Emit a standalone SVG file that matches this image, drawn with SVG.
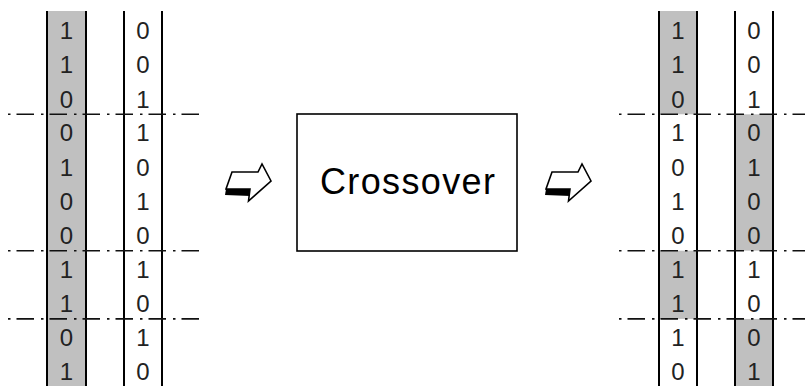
<svg xmlns="http://www.w3.org/2000/svg" width="805" height="386" viewBox="0 0 805 386">
<defs>
<style>
.col{stroke:#000;stroke-width:2;fill:none}
.gray{fill:#c0c0c0;stroke:none}
.dash{stroke:#111;stroke-width:1.6;fill:none;stroke-dasharray:2.5 6 17.5 7}
.d{font-family:"Liberation Sans",Arial,sans-serif;font-size:24px;fill:#222;text-anchor:middle}
.lbl{font-family:"Liberation Sans",Arial,sans-serif;font-size:36px;fill:#000;text-anchor:middle}
.arr{fill:#fff;stroke:#000;stroke-width:1.6;stroke-linejoin:miter}
</style>
<g id="arrowShape">
<polygon points="226,189 250,189 250.5,196 225,195" fill="#000"/>
<polygon class="arr" points="232,172 258,172 262,164 271,181 248.5,201 250,189 226,189"/>
</g>
</defs>
<rect width="805" height="386" fill="#fff"/>

<g id="left-chromosomes">
<g id="parent1">
<rect class="gray" x="47" y="11" width="39" height="375"/>
<line class="col" x1="47" y1="11" x2="47" y2="386"/>
<line class="col" x1="86" y1="11" x2="86" y2="386"/>
<text class="d" x="66.5" y="39.3">1</text>
<text class="d" x="66.5" y="73.4">1</text>
<text class="d" x="66.5" y="107.5">0</text>
<text class="d" x="66.5" y="141">0</text>
<text class="d" x="66.5" y="175.7">1</text>
<text class="d" x="66.5" y="209.8">0</text>
<text class="d" x="66.5" y="243.9">0</text>
<text class="d" x="66.5" y="278">1</text>
<text class="d" x="66.5" y="312.1">1</text>
<text class="d" x="66.5" y="346.2">0</text>
<text class="d" x="66.5" y="380.3">1</text>
</g>
<g id="parent2">
<line class="col" x1="124" y1="11" x2="124" y2="386"/>
<line class="col" x1="162" y1="11" x2="162" y2="386"/>
<text class="d" x="143" y="39.3">0</text>
<text class="d" x="143" y="73.4">0</text>
<text class="d" x="143" y="107.5">1</text>
<text class="d" x="143" y="141">1</text>
<text class="d" x="143" y="175.7">0</text>
<text class="d" x="143" y="209.8">1</text>
<text class="d" x="143" y="243.9">0</text>
<text class="d" x="143" y="278">1</text>
<text class="d" x="143" y="312.1">0</text>
<text class="d" x="143" y="346.2">1</text>
<text class="d" x="143" y="380.3">0</text>
</g>
</g>

<g id="right-chromosomes">
<g id="child1">
<rect class="gray" x="659" y="11" width="38" height="103.3"/>
<rect class="gray" x="659" y="250.7" width="38" height="68.2"/>
<line class="col" x1="659" y1="11" x2="659" y2="386"/>
<line class="col" x1="697" y1="11" x2="697" y2="386"/>
<text class="d" x="678" y="39.3">1</text>
<text class="d" x="678" y="73.4">1</text>
<text class="d" x="678" y="107.5">0</text>
<text class="d" x="678" y="141">1</text>
<text class="d" x="678" y="175.7">0</text>
<text class="d" x="678" y="209.8">1</text>
<text class="d" x="678" y="243.9">0</text>
<text class="d" x="678" y="278">1</text>
<text class="d" x="678" y="312.1">1</text>
<text class="d" x="678" y="346.2">1</text>
<text class="d" x="678" y="380.3">0</text>
</g>
<g id="child2">
<rect class="gray" x="735" y="114.3" width="38" height="136.4"/>
<rect class="gray" x="735" y="318.9" width="38" height="67.1"/>
<line class="col" x1="735" y1="11" x2="735" y2="386"/>
<line class="col" x1="773" y1="11" x2="773" y2="386"/>
<text class="d" x="754" y="39.3">0</text>
<text class="d" x="754" y="73.4">0</text>
<text class="d" x="754" y="107.5">1</text>
<text class="d" x="754" y="141">0</text>
<text class="d" x="754" y="175.7">1</text>
<text class="d" x="754" y="209.8">0</text>
<text class="d" x="754" y="243.9">0</text>
<text class="d" x="754" y="278">1</text>
<text class="d" x="754" y="312.1">0</text>
<text class="d" x="754" y="346.2">0</text>
<text class="d" x="754" y="380.3">1</text>
</g>
</g>

<g id="crossover-box">
<rect x="297" y="114" width="220" height="137" fill="#fff" stroke="#000" stroke-width="1.6"/>
<text class="lbl" x="407.5" y="194.3" textLength="175" lengthAdjust="spacing">Crossover</text>
</g>

<g id="connectors">
<line class="dash" x1="8" y1="114.3" x2="200" y2="114.3"/>
<line class="dash" x1="8" y1="250.7" x2="200" y2="250.7"/>
<line class="dash" x1="8" y1="318.9" x2="200" y2="318.9"/>
<line class="dash" x1="619" y1="114.3" x2="805" y2="114.3"/>
<line class="dash" x1="619" y1="250.7" x2="805" y2="250.7"/>
<line class="dash" x1="619" y1="318.9" x2="805" y2="318.9"/>
<use href="#arrowShape"/>
<use href="#arrowShape" transform="translate(320,0)"/>
</g>
</svg>
